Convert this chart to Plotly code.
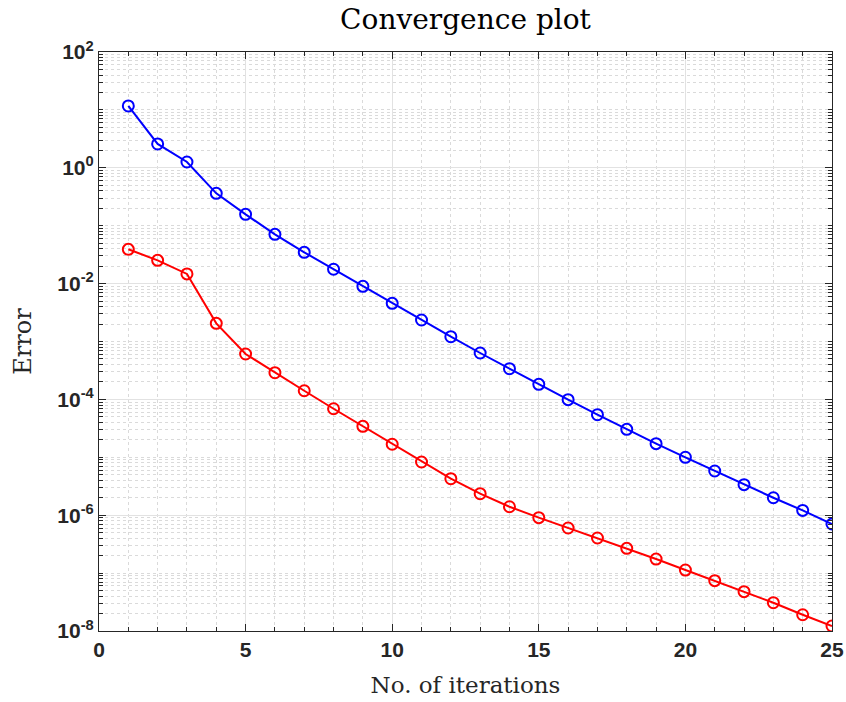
import plotly.graph_objects as go

iterations = list(range(1, 26))
err_blue = [11.7, 2.58, 1.26, 0.362, 0.157, 0.0710, 0.0347, 0.0177, 0.00898, 0.00456,
            0.00235, 0.00121, 6.33e-4, 3.39e-4, 1.82e-4, 9.9e-5, 5.44e-5, 3.04e-5, 1.72e-5, 1.0e-5,
            5.8e-6, 3.37e-6, 2.0e-6, 1.21e-6, 7.05e-7]
err_red = [0.0391, 0.0252, 0.0147, 0.00206, 6.08e-4, 2.89e-4, 1.41e-4, 6.9e-5, 3.43e-5, 1.68e-5,
           8.3e-6, 4.27e-6, 2.35e-6, 1.40e-6, 9.06e-7, 6.01e-7, 4.04e-7, 2.68e-7, 1.75e-7, 1.13e-7,
           7.4e-8, 4.78e-8, 3.08e-8, 1.91e-8, 1.22e-8]
x_ticks = [0, 5, 10, 15, 20, 25]
y_exps = [-8, -6, -4, -2, 0, 2]

fig = go.Figure()
for ys, col in [(err_blue, "#0000ff"), (err_red, "#ff0000")]:
    fig.add_trace(go.Scatter(
        x=iterations, y=ys, mode="lines+markers",
        line=dict(color=col, width=2),
        marker=dict(symbol="circle-open", size=11, color=col, line=dict(width=2, color=col)),
        showlegend=False))

axis_common = dict(
    showline=True, linecolor="#262626", linewidth=1.2, mirror="allticks",
    ticks="inside", ticklen=7, tickcolor="#262626", tickwidth=1,
    showgrid=True, gridcolor="#e2e2e2", gridwidth=1,
    zeroline=False, automargin=False,
    tickfont=dict(family="Liberation Sans", size=21, color="#262626", weight="bold"),
)

fig.update_xaxes(
    range=[0, 25], tickvals=x_ticks, ticktext=[str(v) for v in x_ticks],
    title=dict(text="No. of iterations", font=dict(family="DejaVu Serif", size=23, color="#262626"), standoff=16),
    minor=dict(dtick=1, tick0=0, showgrid=True, gridcolor="#dadada", griddash="dot", ticks="inside", ticklen=4, tickcolor="#262626"),
    **axis_common)

fig.update_yaxes(
    type="log", range=[-8, 2],
    tickvals=[10.0 ** e for e in y_exps],
    ticktext=["10<sup>%d</sup>" % e for e in y_exps],
    title=dict(text="Error", font=dict(family="DejaVu Serif", size=24, color="#262626"), standoff=18),
    minor=dict(dtick="D1", showgrid=True, gridcolor="#dadada", griddash="dot", ticks="inside", ticklen=4, tickcolor="#262626"),
    **axis_common)

fig.update_layout(
    width=846, height=702, autosize=False,
    margin=dict(l=99, r=14, t=52, b=71),
    paper_bgcolor="white", plot_bgcolor="white",
    title=dict(text="Convergence plot", x=0.5, xanchor="center", xref="paper",
               y=1, yref="container", yanchor="top", pad=dict(t=9),
               font=dict(family="DejaVu Serif", size=28, color="black")),
)

fig.write_html("out.html")
